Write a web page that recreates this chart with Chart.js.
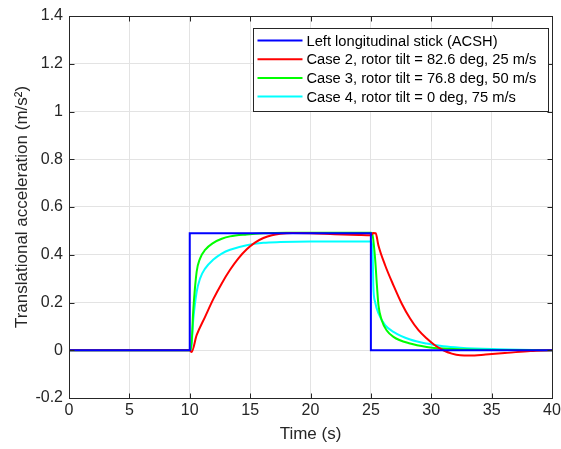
<!DOCTYPE html>
<html lang="en">
<head>
  <meta charset="UTF-8">
  <title>Translational acceleration</title>
  <script src="https://cdn.jsdelivr.net/npm/chart.js"></script>
  <style>
    body { margin: 0; background: #fff; }
    #wrap { width: 561px; height: 449px; }
  </style>
</head>
<body>
  <div id="wrap"><canvas id="accChart" width="561" height="449"></canvas></div>

  <script>
    // stick input (step)
    const stickTime = [0, 10, 10, 25, 25, 40];
    const stickAcc  = [0, 0, 0.49, 0.49, 0, 0];

    // case 2, 82.6 deg, 25 m/s
    const case2Time = [0, 10, 10.15, 10.57, 11.27, 11.96, 12.65, 13.34, 14.03, 14.72, 15.4, 16.1, 16.8, 17.5, 18.5, 20, 22, 24, 25, 25.2, 25.4, 25.62, 26.18, 26.87, 27.56, 28.25, 28.94, 29.63, 30.3, 31, 31.7, 32.4, 33.2, 34.5, 36.3, 38.2, 40];
    const case2Acc  = [0, 0, -0.007, 0.063, 0.14, 0.215, 0.28, 0.337, 0.385, 0.423, 0.451, 0.47, 0.482, 0.488, 0.491, 0.49, 0.486, 0.483, 0.482, 0.491, 0.49, 0.44, 0.356, 0.272, 0.195, 0.133, 0.084, 0.049, 0.021, 0, -0.014, -0.021, -0.022, -0.018, -0.011, -0.003, 0];

    // case 3, 76.8 deg, 50 m/s
    const case3Time = [0, 10, 10.1, 10.3, 10.57, 10.85, 11.27, 11.96, 12.65, 13.34, 14.72, 16.1, 18, 25, 25.1, 25.35, 25.5, 25.63, 25.9, 26.3, 26.87, 28.25, 29.63, 31, 33, 40];
    const case3Acc  = [0, 0, 0, 0.175, 0.328, 0.384, 0.42, 0.45, 0.467, 0.477, 0.485, 0.49, 0.492, 0.492, 0.49, 0.384, 0.272, 0.188, 0.126, 0.084, 0.056, 0.028, 0.014, 0.007, 0.003, 0];

    // case 4, 0 deg, 75 m/s
    const case4Time = [0, 10, 10.1, 10.3, 10.57, 10.85, 11.27, 11.96, 12.65, 13.34, 14.72, 16.1, 17.5, 20, 25, 25.1, 25.16, 25.2, 25.35, 25.63, 26.18, 26.87, 28.25, 29.63, 31, 32.4, 35, 40];
    const case4Acc  = [0, 0, 0, 0.133, 0.244, 0.3, 0.342, 0.38, 0.405, 0.421, 0.44, 0.45, 0.453, 0.455, 0.455, 0.44, 0.384, 0.272, 0.202, 0.154, 0.105, 0.077, 0.045, 0.028, 0.017, 0.011, 0.005, 0];

    const seriesLabels = [
      'Left longitudinal stick (ACSH)',
      'Case 2, rotor tilt = 82.6 deg, 25 m/s',
      'Case 3, rotor tilt = 76.8 deg, 50 m/s',
      'Case 4, rotor tilt = 0 deg, 75 m/s'
    ];
    const seriesColors = ['#0000ff', '#ff0000', '#00ff00', '#00ffff'];

    const xTicks = [0, 5, 10, 15, 20, 25, 30, 35, 40];
    const yTicks = [-0.2, 0, 0.2, 0.4, 0.6, 0.8, 1, 1.2, 1.4];

    const pts = (t, v) => t.map((x, i) => ({ x: x, y: v[i] }));

    const textColor = '#262626';
    const fontFamily = '"Liberation Sans", Arial, sans-serif';

    // box round the axes, inward ticks + legend in the upper right, like matlab
    const boxLegend = {
      id: 'boxLegend',
      afterDraw(chart) {
        const { ctx, chartArea: a, scales } = chart;
        ctx.save();
        ctx.strokeStyle = textColor;
        ctx.lineWidth = 1;
        const L = Math.round(a.left) + 0.5, T = Math.round(a.top) + 0.5;
        const R = Math.round(a.right) + 0.5, B = Math.round(a.bottom) + 0.5;
        ctx.strokeRect(L, T, R - L, B - T);

        ctx.beginPath();
        xTicks.forEach(v => {
          const px = Math.round(scales.x.getPixelForValue(v)) + 0.5;
          ctx.moveTo(px, B); ctx.lineTo(px, B - 5);
          ctx.moveTo(px, T); ctx.lineTo(px, T + 5);
        });
        yTicks.forEach(v => {
          const py = Math.round(scales.y.getPixelForValue(v)) + 0.5;
          ctx.moveTo(L, py); ctx.lineTo(L + 5, py);
          ctx.moveTo(R, py); ctx.lineTo(R - 5, py);
        });
        ctx.stroke();

        const bx = 253.5, by = 28.5, bw = 295, bh = 83;
        ctx.fillStyle = '#fff';
        ctx.fillRect(bx, by, bw, bh);
        ctx.strokeStyle = '#262626';
        ctx.strokeRect(bx, by, bw, bh);
        ctx.font = '14.7px ' + fontFamily;
        ctx.textBaseline = 'middle';
        chart.data.datasets.forEach((ds, i) => {
          const y = by + 12 + i * 18.7;
          ctx.strokeStyle = ds.borderColor;
          ctx.lineWidth = 2;
          ctx.beginPath();
          ctx.moveTo(bx + 4, y);
          ctx.lineTo(bx + 49, y);
          ctx.stroke();
          ctx.fillStyle = '#000';
          ctx.fillText(ds.label, bx + 53, y + 1);
        });
        ctx.restore();
      }
    };

    const ctx = document.getElementById('accChart').getContext('2d');
    const datasets = [
      [stickTime, stickAcc],
      [case2Time, case2Acc],
      [case3Time, case3Acc],
      [case4Time, case4Acc]
    ].map(([t, v], i) => ({
      label: seriesLabels[i],
      data: pts(t, v),
      borderColor: seriesColors[i],
      borderWidth: 2,
      pointRadius: 0,
      tension: 0,
      cubicInterpolationMode: i === 0 ? 'default' : 'monotone'
    }));

    new Chart(ctx, {
      type: 'line',
      data: { datasets: datasets },
      plugins: [boxLegend],
      options: {
        responsive: false,
        animation: false,
        layout: { padding: { top: 16, right: 9, left: 0, bottom: 0 } },
        plugins: {
          legend: { display: false },
          tooltip: { enabled: false }
        },
        scales: {
          x: {
            type: 'linear',
            min: 0, max: 40,
            afterBuildTicks: s => { s.ticks = xTicks.map(v => ({ value: v })); },
            afterFit: s => { s.height = 51; s.paddingLeft = 0; s.paddingRight = 0; },
            grid: { color: '#e3e3e3', drawTicks: false },
            border: { color: textColor },
            ticks: { color: textColor, font: { size: 16, family: fontFamily }, padding: 3 },
            title: {
              display: true, text: 'Time (s)', color: textColor,
              font: { size: 17, family: fontFamily }, padding: { top: 0 }
            }
          },
          y: {
            min: -0.2, max: 1.4,
            afterBuildTicks: s => { s.ticks = yTicks.map(v => ({ value: v })); },
            afterFit: s => { s.width = 69; s.paddingTop = 0; s.paddingBottom = 0; },
            grid: { color: '#e3e3e3', drawTicks: false },
            border: { color: textColor },
            ticks: {
              color: textColor, font: { size: 16, family: fontFamily }, padding: 6,
              callback: v => String(Math.round(v * 10) / 10)
            },
            title: {
              display: true, text: 'Translational acceleration (m/s\u00b2)', color: textColor,
              font: { size: 17, family: fontFamily }, padding: { top: 12, bottom: 0 }
            }
          }
        }
      }
    });
  </script>
</body>
</html>
